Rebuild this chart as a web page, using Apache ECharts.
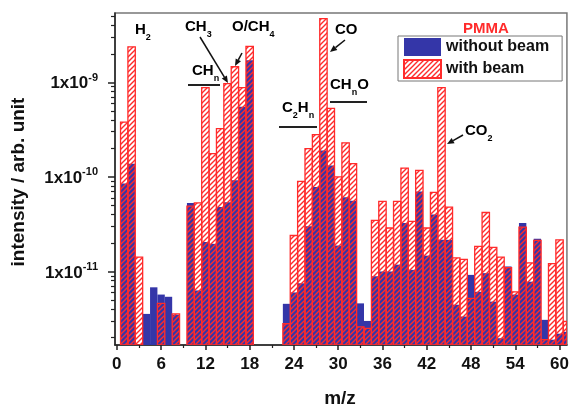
<!DOCTYPE html>
<html><head><meta charset="utf-8">
<script src="https://cdn.jsdelivr.net/npm/echarts@6/dist/echarts.min.js"></script>
<style>html,body{margin:0;padding:0;background:#fff}#c{width:572px;height:412px}</style>
</head><body><div id="c"></div>
<script>
// m/z values (categories)
const mz = [];
for (let i = 1; i <= 61; i++) mz.push(i);
// intensity without beam (blue)
const withoutBeam = [
 8.5e-11, 1.38e-10, null, 3.56e-12, 6.8e-12, 5.7e-12, 5.4e-12, 3.5e-12, null, 5.3e-11,
 6.3e-12, 2.05e-11, 1.96e-11, 4.8e-11, 5.4e-11, 9.2e-11, 5.5e-10, 1.71e-9, null, null,
 null, null, 4.55e-12, 6.0e-12, 7.5e-12, 3.0e-11, 7.8e-11, 1.9e-10, 1.32e-10, 1.88e-11,
 6.1e-11, 5.6e-11, 4.6e-12, 3.0e-12, 8.9e-12, 1.0e-11, 1.0e-11, 1.18e-11, 3.25e-11, 1.04e-11,
 7.0e-11, 1.47e-11, 4.0e-11, 2.16e-11, 2.16e-11, 4.45e-12, 3.34e-12, 9.2e-12, 6.1e-12, 9.6e-12,
 4.8e-12, 1.97e-12, 1.13e-11, 5.7e-12, 3.25e-11, 7.8e-12, 2.22e-11, 3.08e-12, 1.9e-12, 2.2e-12,
 2.3e-12];
// intensity with beam (red hatched)
const withBeam = [
 3.8e-10, 2.37e-9, 1.42e-11, null, null, 4.6e-12, null, 3.56e-12, null, 4.9e-11,
 5.3e-11, 8.8e-10, 1.76e-10, 3.24e-10, 9.7e-10, 1.46e-9, 8.8e-10, 2.4e-9, null, null,
 null, null, 2.8e-12, 2.4e-11, 8.95e-11, 1.99e-10, 2.8e-10, 4.7e-9, 5.3e-10, 1.0e-10,
 2.29e-10, 1.38e-10, 2.6e-12, 2.5e-12, 3.47e-11, 5.5e-11, 2.88e-11, 5.5e-11, 1.24e-10, 3.38e-11,
 1.17e-10, 2.88e-11, 6.85e-11, 8.8e-10, 4.8e-11, 1.39e-11, 1.34e-11, 5.2e-12, 1.84e-11, 4.2e-11,
 1.8e-11, 1.42e-11, 1.1e-11, 6.1e-12, 2.95e-11, 1.23e-11, 2.13e-11, 1.9e-12, 1.21e-11, 2.16e-11,
 2.96e-12];
// tick labels
const xTickLabels = [0, 6, 12, 18, 24, 30, 36, 42, 48, 54, 60];
const xMinorTicks = [3, 9, 15, 21, 27, 33, 39, 45, 51, 57];
const yTickLabels = [1e-11, 1e-10, 1e-9];
const yMinorFactors = [2, 3, 4, 5, 6, 7, 8, 9];
const yDecades = [-12, -11, -10, -9];

const X_MIN = -0.25, X_MAX = 61;
const Y_MIN = 1.67e-12, Y_MAX = 5.4e-9;
const FONT = '"Liberation Sans", Arial, sans-serif';
const BLUE = '#3436a8', RED = '#ff2b2b';

function hatch() {
  const c = document.createElement('canvas');
  c.width = 5; c.height = 5;
  const g = c.getContext('2d');
  g.strokeStyle = RED; g.lineWidth = 1.4;
  g.beginPath();
  g.moveTo(-1, 6); g.lineTo(6, -1);
  g.moveTo(-1, 1); g.lineTo(1, -1);
  g.moveTo(4, 6); g.lineTo(6, 4);
  g.stroke();
  return c;
}
const hatchPattern = { image: hatch(), repeat: 'repeat' };

function toData(arr) {
  return mz.map((m, i) => [m, arr[i]]).filter(d => d[1] != null);
}
function makeRender(style) {
  return function (params, api) {
    const x = api.value(0), v = api.value(1);
    if (v == null || isNaN(v)) return;
    const p1 = api.coord([x - 0.5, v]);
    const p2 = api.coord([x + 0.5, Y_MIN]);
    const cs = params.coordSys;
    const shape = echarts.graphic.clipRectByRect(
      { x: p1[0], y: p1[1], width: p2[0] - p1[0], height: p2[1] - p1[1] },
      { x: cs.x, y: cs.y, width: cs.width, height: cs.height });
    if (!shape) return;
    return { type: 'rect', shape: shape, style: style };
  };
}

const yMinorLog = [];
yDecades.forEach(d => yMinorFactors.forEach(f => yMinorLog.push(d + Math.log10(f))));
const yLogMin = Math.log10(Y_MIN), yLogMax = Math.log10(Y_MAX);

function arrow(x1, y1, x2, y2) {
  const a = Math.atan2(y2 - y1, x2 - x1), L = 7, W = 3;
  const bx = x2 - L * Math.cos(a), by = y2 - L * Math.sin(a);
  const px = -Math.sin(a) * W, py = Math.cos(a) * W;
  return [
    { type: 'line', shape: { x1: x1, y1: y1, x2: bx, y2: by }, style: { stroke: '#111', lineWidth: 1.5 }, z: 100 },
    { type: 'polygon', shape: { points: [[x2, y2], [bx + px, by + py], [bx - px, by - py]] }, style: { fill: '#111' }, z: 100 }
  ];
}
function rule(x1, x2, y) {
  return { type: 'line', shape: { x1: x1, y1: y, x2: x2, y2: y }, style: { stroke: '#222', lineWidth: 2 }, z: 100 };
}
const annRich = {
  m: { fontSize: 15, fontWeight: 'bold', fontFamily: FONT, color: '#111', lineHeight: 20, verticalAlign: 'top' },
  s: { fontSize: 9, fontWeight: 'bold', fontFamily: FONT, color: '#111', lineHeight: 10, verticalAlign: 'bottom' }
};
function ann(x, y, text) {
  return { type: 'text', x: x, y: y, z: 100, style: { text: text, rich: annRich, align: 'left', verticalAlign: 'top' } };
}

const graphics = [
  ann(135, 22, '{m|H}{s|2}'),
  ann(185, 19, '{m|CH}{s|3}'),
  ann(232, 19, '{m|O/CH}{s|4}'),
  ann(192, 63, '{m|CH}{s|n}'),
  ann(282, 100, '{m|C}{s|2}{m|H}{s|n}'),
  ann(335, 22, '{m|CO}'),
  ann(330, 77, '{m|CH}{s|n}{m|O}'),
  ann(465, 123, '{m|CO}{s|2}'),
  rule(188, 220, 85), rule(279, 317, 127), rule(330, 367, 102),
  ...arrow(200, 37, 228, 83),
  ...arrow(242, 53, 235, 66),
  ...arrow(345, 40, 330, 52),
  ...arrow(463, 135, 447, 144),
  { type: 'text', x: 19, y: 182, rotation: Math.PI / 2, z: 100,
    style: { text: 'intensity / arb. unit', font: 'bold 19px ' + FONT, fill: '#111', align: 'center', verticalAlign: 'middle' } },
  { type: 'text', x: 340, y: 399, z: 100,
    style: { text: 'm/z', font: 'bold 19px ' + FONT, fill: '#111', align: 'center', verticalAlign: 'middle' } }
];

const chart = echarts.init(document.getElementById('c'), null, { renderer: 'canvas' });
chart.setOption({
  animation: false,
  backgroundColor: '#fff',
  title: { text: 'PMMA', left: 463, top: 21, padding: 0,
    textStyle: { color: RED, fontSize: 15, fontWeight: 'bold', fontFamily: FONT } },
  legend: {
    left: 398, top: 36, orient: 'vertical', itemWidth: 37, itemHeight: 18, itemGap: 3,
    padding: [2, 13, 2, 5], borderColor: '#777', borderWidth: 1, backgroundColor: '#fff',
    textStyle: { fontSize: 16, fontWeight: 'bold', fontFamily: FONT, color: '#111' },
    data: [{ name: 'without beam', icon: 'rect' }, { name: 'with beam', icon: 'rect' }]
  },
  grid: [
    { left: 115, right: 5, top: 13, bottom: 67, show: true, borderColor: '#777', borderWidth: 1.5, backgroundColor: 'transparent' },
    { left: 115, right: 5, top: 13, bottom: 67, show: false }
  ],
  xAxis: [
    { type: 'value', gridIndex: 0, min: X_MIN, max: X_MAX,
      axisLine: { show: true, onZero: false, lineStyle: { color: '#222', width: 1.5 } },
      axisTick: { show: true, customValues: xTickLabels, length: 5, lineStyle: { color: '#222', width: 1.5 } },
      axisLabel: { customValues: xTickLabels, margin: 11, fontSize: 17, fontWeight: 'bold', fontFamily: FONT, color: '#111' },
      splitLine: { show: false } },
    { type: 'value', gridIndex: 1, min: X_MIN, max: X_MAX,
      axisLine: { show: false, onZero: false },
      axisTick: { show: true, customValues: xMinorTicks, length: 3, lineStyle: { color: '#222', width: 1.2 } },
      axisLabel: { show: false }, splitLine: { show: false } }
  ],
  yAxis: [
    { type: 'log', gridIndex: 0, min: Y_MIN, max: Y_MAX, logBase: 10,
      axisLine: { show: true, onZero: false, lineStyle: { color: '#222', width: 1.5 } },
      axisTick: { show: true, length: 7, lineStyle: { color: '#222', width: 1.5 } },
      axisLabel: { margin: 17, showMinLabel: false, showMaxLabel: false,
        formatter: function (v) {
          const l = Math.log10(v), e = Math.round(l);
          if (Math.abs(l - e) > 1e-6 || !yTickLabels.some(t => Math.abs(Math.log10(t) - e) < 1e-6)) return '';
          return '{b|1x10}{s|' + e + '}';
        },
        rich: {
          b: { fontSize: 17, fontWeight: 'bold', fontFamily: FONT, color: '#111', lineHeight: 20, verticalAlign: 'bottom' },
          s: { fontSize: 11, fontWeight: 'bold', fontFamily: FONT, color: '#111', lineHeight: 12, verticalAlign: 'top' }
        } },
      splitLine: { show: false }, minorTick: { show: false } },
    { type: 'value', gridIndex: 1, min: yLogMin, max: yLogMax,
      axisLine: { show: false, onZero: false },
      axisTick: { show: true, customValues: yMinorLog, length: 4, lineStyle: { color: '#222', width: 1.2 } },
      axisLabel: { show: false }, splitLine: { show: false } }
  ],
  series: [
    { name: 'without beam', type: 'custom', xAxisIndex: 0, yAxisIndex: 0, clip: true,
      itemStyle: { color: BLUE },
      renderItem: makeRender({ fill: BLUE }),
      encode: { x: 0, y: 1 },
      data: toData(withoutBeam) },
    { name: 'with beam', type: 'custom', xAxisIndex: 0, yAxisIndex: 0, clip: true,
      itemStyle: { color: hatchPattern, borderColor: RED, borderWidth: 1.3 },
      renderItem: makeRender({ fill: hatchPattern, stroke: RED, lineWidth: 1.3 }),
      encode: { x: 0, y: 1 },
      data: toData(withBeam) }
  ],
  graphic: graphics
});
</script></body></html>
